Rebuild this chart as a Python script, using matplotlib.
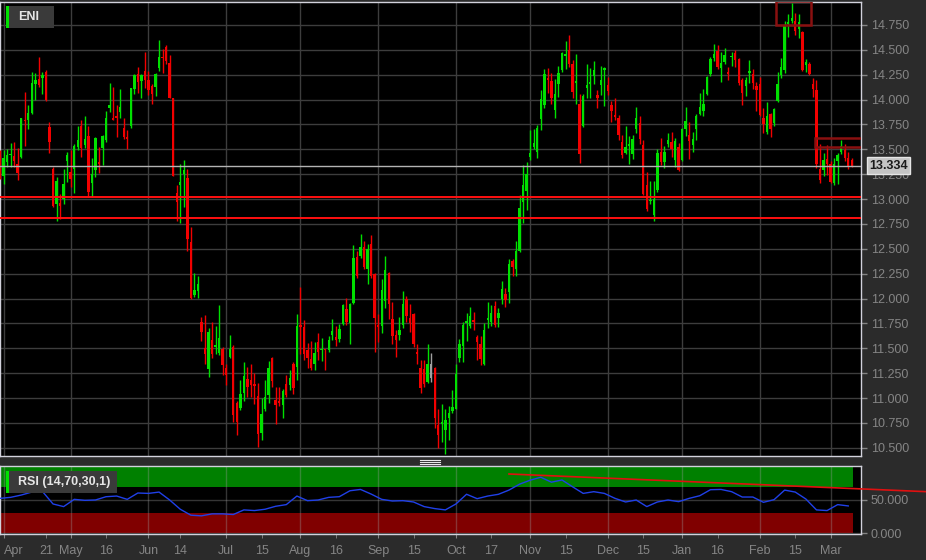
import pandas as pd
import matplotlib
matplotlib.use("Agg")
import matplotlib.pyplot as plt
from matplotlib.patches import Rectangle
from matplotlib.lines import Line2D

plt.rcParams['font.family'] = ['Liberation Sans', 'DejaVu Sans']

BG = '#2b2b2b'
GRID = '#3d3d3d'
TXT = '#858585'
BORDER = '#d2d2dc'
UP = '#00e000'
DOWN = '#f20000'
FLAT = '#a0a0a0'

# ENI daily candles, 31 Mar 2022 .. 9 Mar 2023 (Borsa Italiana sessions)
holidays = ['2022-04-15', '2022-04-18', '2022-08-15', '2022-12-26']
neutral_days = ['2022-09-22']

opens = [13.46, 13.23, 13.37, 13.44, 13.43, 13.35, 13.42, 13.80, 13.79, 13.87,
         14.16, 14.21, 14.22, 14.28, 13.72, 13.30, 12.95, 12.96, 13.00, 13.38,
         13.27, 13.30, 13.52, 13.73, 13.54, 13.63, 13.16, 13.29, 13.37, 13.51,
         13.59, 13.92, 13.82, 13.83, 13.88, 13.71, 13.62, 13.73, 14.11, 14.26,
         14.19, 14.29, 14.20, 14.14, 14.13, 14.32, 14.43, 14.53, 14.37, 14.02,
         13.06, 13.14, 13.25, 13.21, 12.57, 12.04, 12.08, 11.76, 11.50, 11.29,
         11.58, 11.51, 11.45, 11.49, 11.30, 11.41, 11.51, 10.95, 10.90, 11.05,
         11.19, 11.18, 11.14, 11.02, 10.65, 10.89, 11.03, 11.40, 10.98, 10.97,
         10.93, 11.14, 11.13, 11.34, 11.31, 11.73, 11.71, 11.48, 11.39, 11.34,
         11.56, 11.48, 11.49, 11.48, 11.63, 11.61, 11.59, 11.74, 11.90, 11.75,
         11.96, 12.42, 12.43, 12.52, 12.30, 12.55, 12.25, 11.73, 11.72, 11.98,
         12.26, 11.79, 11.63, 11.63, 11.73, 12.00, 11.81, 11.85, 11.46, 11.30,
         11.29, 11.16, 11.20, 11.30, 10.73, 10.74, 10.68, 10.80, 10.87, 10.89,
         11.40, 11.52, 11.75, 11.72, 11.78, 11.61, 11.54, 11.34, 11.78, 11.76,
         11.93, 11.81, 12.00, 12.05, 12.07, 12.38, 12.30, 12.48, 12.97, 13.08,
         13.42, 13.52, 13.47, 13.81, 13.95, 14.22, 14.19, 13.90, 14.16, 14.30,
         14.44, 14.50, 14.36, 14.17, 13.96, 13.73, 14.12, 14.16, 14.24, 14.05,
         14.15, 14.30, 14.15, 13.95, 13.85, 13.82, 13.57, 13.46, 13.53, 13.45,
         13.70, 13.76, 13.54, 13.14, 12.98, 12.84, 13.09, 13.47, 13.37, 13.55,
         13.57, 13.39, 13.52, 13.39, 13.70, 13.64, 13.54, 13.70, 13.86, 13.89,
         14.06, 14.26, 14.42, 14.49, 14.32, 14.38, 14.28, 14.43, 14.47, 14.41,
         14.20, 14.14, 14.27, 14.26, 14.14, 14.16, 13.82, 13.67, 13.86, 13.76,
         13.99, 14.25, 14.30, 14.76, 14.79, 14.79, 14.71, 14.68, 14.35, 14.36,
         14.16, 14.10, 13.30, 13.29, 13.40, 13.35, 13.16, 13.38, 13.47, 13.49,
         13.41, 13.39]
highs = [13.49, 13.49, 13.50, 13.56, 13.57, 13.51, 13.82, 14.08, 13.95, 14.28,
         14.27, 14.43, 14.28, 14.30, 13.77, 13.32, 13.22, 13.05, 13.30, 13.47,
         13.49, 13.55, 13.73, 13.80, 13.84, 13.73, 13.41, 13.62, 13.52, 13.64,
         13.89, 14.17, 14.13, 13.95, 14.11, 13.82, 13.69, 14.12, 14.26, 14.33,
         14.26, 14.48, 14.29, 14.16, 14.27, 14.60, 14.51, 14.55, 14.45, 14.02,
         13.14, 13.35, 13.39, 13.30, 12.72, 12.26, 12.23, 11.82, 11.84, 11.70,
         11.76, 11.72, 11.94, 11.51, 11.34, 11.63, 11.53, 10.97, 11.18, 11.36,
         11.31, 11.34, 11.25, 11.15, 11.00, 11.18, 11.37, 11.41, 11.11, 11.11,
         11.09, 11.23, 11.28, 11.36, 11.85, 12.12, 11.78, 11.55, 11.57, 11.56,
         11.65, 11.60, 11.49, 11.62, 11.79, 11.72, 11.74, 11.95, 12.01, 11.96,
         12.54, 12.48, 12.65, 12.58, 12.55, 12.64, 12.26, 11.85, 12.20, 12.43,
         12.27, 11.97, 11.68, 11.82, 12.08, 12.03, 11.95, 11.86, 11.54, 11.38,
         11.38, 11.54, 11.45, 11.31, 10.89, 10.94, 10.89, 10.92, 11.08, 11.34,
         11.59, 11.76, 11.86, 11.92, 11.87, 11.63, 11.62, 11.75, 11.97, 11.94,
         11.98, 11.91, 12.18, 12.11, 12.40, 12.40, 12.58, 13.04, 13.34, 13.37,
         13.69, 13.70, 13.74, 14.10, 14.31, 14.32, 14.27, 14.21, 14.34, 14.48,
         14.59, 14.65, 14.40, 14.46, 14.06, 14.06, 14.36, 14.32, 14.39, 14.10,
         14.34, 14.33, 14.23, 13.99, 14.02, 13.85, 13.64, 13.73, 13.63, 13.64,
         13.93, 13.84, 13.59, 13.27, 13.18, 13.18, 13.50, 13.61, 13.53, 13.66,
         13.67, 13.61, 13.56, 13.71, 13.93, 13.77, 13.67, 13.86, 14.07, 14.11,
         14.24, 14.43, 14.56, 14.55, 14.48, 14.52, 14.33, 14.48, 14.50, 14.42,
         14.22, 14.23, 14.40, 14.31, 14.18, 14.23, 13.92, 13.98, 13.87, 13.92,
         14.28, 14.42, 14.79, 14.86, 14.97, 14.87, 14.86, 14.69, 14.41, 14.38,
         14.22, 14.20, 13.55, 13.46, 13.54, 13.38, 13.41, 13.46, 13.59, 13.55,
         13.47, 13.41]
lows = [13.20, 13.15, 13.32, 13.32, 13.32, 13.19, 13.41, 13.53, 13.70, 13.86,
        14.00, 14.13, 14.06, 13.99, 13.46, 12.92, 12.78, 12.80, 12.95, 13.17,
        13.12, 13.06, 13.49, 13.42, 13.51, 13.02, 13.03, 13.22, 13.26, 13.34,
        13.57, 13.88, 13.79, 13.62, 13.82, 13.60, 13.50, 13.71, 14.06, 14.07,
        14.02, 14.12, 14.05, 13.96, 14.04, 14.29, 14.27, 14.36, 14.02, 13.23,
        12.78, 12.76, 12.92, 12.48, 12.00, 12.02, 12.01, 11.57, 11.34, 11.21,
        11.40, 11.44, 11.43, 11.23, 11.13, 11.40, 10.76, 10.63, 10.88, 10.97,
        11.01, 11.01, 10.94, 10.51, 10.58, 10.87, 10.95, 11.11, 10.74, 10.92,
        10.80, 11.01, 11.08, 11.04, 11.18, 11.44, 11.38, 11.30, 11.28, 11.28,
        11.38, 11.37, 11.28, 11.46, 11.58, 11.52, 11.56, 11.73, 11.73, 11.54,
        11.95, 12.21, 12.41, 12.30, 12.15, 12.21, 11.46, 11.56, 11.65, 11.91,
        11.79, 11.54, 11.41, 11.58, 11.70, 11.76, 11.66, 11.51, 11.34, 11.05,
        11.11, 11.15, 11.16, 10.70, 10.50, 10.56, 10.44, 10.58, 10.85, 10.89,
        11.36, 11.36, 11.57, 11.70, 11.68, 11.38, 11.33, 11.33, 11.70, 11.72,
        11.71, 11.71, 11.95, 11.92, 11.96, 12.23, 12.23, 12.47, 12.76, 12.89,
        13.39, 13.50, 13.41, 13.69, 13.92, 14.07, 13.96, 13.82, 14.03, 14.28,
        14.31, 14.33, 14.02, 13.96, 13.36, 13.72, 14.02, 14.02, 14.16, 13.92,
        14.05, 13.94, 14.05, 13.77, 13.79, 13.59, 13.41, 13.45, 13.35, 13.40,
        13.66, 13.55, 13.04, 12.88, 12.95, 12.78, 13.07, 13.34, 13.31, 13.52,
        13.42, 13.32, 13.28, 13.38, 13.63, 13.40, 13.47, 13.59, 13.85, 13.84,
        14.05, 14.24, 14.39, 14.31, 14.18, 14.36, 14.20, 14.34, 14.33, 14.15,
        13.95, 14.04, 14.17, 14.11, 13.89, 13.84, 13.66, 13.65, 13.62, 13.73,
        13.98, 14.22, 14.27, 14.63, 14.77, 14.65, 14.62, 14.29, 14.28, 14.25,
        14.03, 13.31, 13.16, 13.23, 13.24, 13.16, 13.14, 13.15, 13.45, 13.38,
        13.30, 13.32]
closes = [13.25, 13.41, 13.44, 13.45, 13.38, 13.26, 13.82, 13.78, 13.87, 14.17,
          14.20, 14.15, 14.25, 14.00, 13.57, 12.93, 13.18, 12.93, 13.15, 13.44,
          13.20, 13.53, 13.59, 13.51, 13.60, 13.07, 13.25, 13.61, 13.35, 13.63,
          13.82, 13.95, 13.80, 13.82, 13.93, 13.62, 13.60, 14.12, 14.25, 14.18,
          14.25, 14.20, 14.10, 14.06, 14.26, 14.43, 14.42, 14.39, 14.02, 13.23,
          12.97, 13.17, 13.29, 12.60, 12.01, 12.09, 12.15, 11.66, 11.44, 11.66,
          11.44, 11.53, 11.60, 11.33, 11.23, 11.49, 10.83, 10.76, 11.04, 11.22,
          11.11, 11.13, 11.12, 10.64, 10.84, 11.01, 11.30, 11.17, 10.93, 10.95,
          11.07, 11.03, 11.20, 11.10, 11.72, 11.71, 11.44, 11.40, 11.30, 11.45,
          11.46, 11.49, 11.48, 11.58, 11.67, 11.58, 11.69, 11.94, 11.76, 11.95,
          12.41, 12.23, 12.52, 12.32, 12.50, 12.23, 11.81, 11.71, 12.09, 12.29,
          11.95, 11.62, 11.58, 11.68, 11.95, 11.83, 11.75, 11.54, 11.44, 11.10,
          11.14, 11.34, 11.34, 10.80, 10.63, 10.76, 10.78, 10.85, 10.91, 11.24,
          11.54, 11.73, 11.77, 11.83, 11.76, 11.56, 11.39, 11.68, 11.80, 11.86,
          11.73, 11.86, 12.10, 11.99, 12.35, 12.32, 12.48, 12.91, 13.14, 13.25,
          13.46, 13.56, 13.71, 14.01, 14.26, 14.20, 14.02, 14.06, 14.27, 14.47,
          14.46, 14.36, 14.08, 14.19, 13.45, 14.04, 14.15, 14.18, 14.30, 14.02,
          14.20, 14.32, 14.09, 13.89, 13.83, 13.64, 13.44, 13.52, 13.55, 13.60,
          13.82, 13.60, 13.05, 12.90, 12.99, 13.00, 13.46, 13.37, 13.47, 13.59,
          13.50, 13.58, 13.29, 13.70, 13.78, 13.58, 13.60, 13.84, 13.93, 13.96,
          14.23, 14.41, 14.46, 14.33, 14.37, 14.45, 14.26, 14.44, 14.40, 14.17,
          14.07, 14.20, 14.29, 14.17, 14.10, 13.85, 13.75, 13.84, 13.70, 13.91,
          14.16, 14.33, 14.74, 14.78, 14.82, 14.69, 14.78, 14.30, 14.38, 14.26,
          14.11, 13.35, 13.19, 13.39, 13.35, 13.17, 13.35, 13.44, 13.53, 13.41,
          13.32, 13.334]

# RSI(14), every third session
rsi_values = [52.5, 54, 57.5, 62, 63, 44, 40, 51, 49.5, 50,
              55, 56, 51, 60.6, 60, 62, 50, 36, 27, 26,
              29, 29, 28, 35, 34, 36, 40.5, 43, 56, 49,
              50, 54, 55, 64, 66, 59, 51, 48.5, 49, 47,
              40, 37, 35, 44, 58.7, 52, 56, 58.6, 65, 74,
              80, 84.5, 77, 80.3, 70, 60, 62.6, 60, 52.5, 47,
              50, 40, 47, 50, 47.5, 52.5, 56.5, 65.6, 66, 62.6,
              54.5, 54.5, 46.5, 50.5, 65, 62, 51.5, 35, 34, 43,
              41]

# support levels and drawn zones
levels = [13.02, 12.81]
zone_start = ['2023-02-08', '2023-02-23']
zone_end = ['2023-02-21', None]
zone_low = [14.75, 13.524]
zone_high = [14.99, 13.614]
trend_dates = ['2022-10-24', '2023-03-09']
trend_values = [89.4, 67.4]

tick_dates = ['2022-04-01', '2022-04-21', '2022-05-02', '2022-05-16', '2022-06-01',
              '2022-06-14', '2022-07-01', '2022-07-15', '2022-08-01', '2022-08-16',
              '2022-09-01', '2022-09-15', '2022-10-03', '2022-10-17', '2022-11-01',
              '2022-11-15', '2022-12-01', '2022-12-15', '2023-01-02', '2023-01-16',
              '2023-02-01', '2023-02-15', '2023-03-01']
tick_labels = ['Apr', '21', 'May', '16', 'Jun', '14', 'Jul', '15', 'Aug', '16',
               'Sep', '15', 'Oct', '17', 'Nov', '15', 'Dec', '15', 'Jan', '16',
               'Feb', '15', 'Mar']

dates = pd.bdate_range('2022-03-31', periods=len(closes), freq='C', holidays=holidays)
pos = {d: i for i, d in enumerate(dates)}
xs = list(range(len(dates)))


def at(d):
    return pos[pd.Timestamp(d)]


W, H = 926, 560


def frame(l, t, r, b):
    return [l / W, 1 - b / H, (r - l) / W, (b - t) / H]


fig = plt.figure(figsize=(9.26, 5.6), dpi=100, facecolor=BG)
ax = fig.add_axes(frame(0, 2, 861, 456))
rax = fig.add_axes(frame(0, 466, 861, 534), sharex=ax)

for a in (ax, rax):
    a.set_facecolor('black')
    for s in a.spines.values():
        s.set_color(BORDER)
        s.set_linewidth(1)
    a.yaxis.tick_right()
    a.tick_params(axis='y', colors=TXT, labelsize=9, length=4, width=1, pad=3)

# candles
colors = []
for i, (o, c) in enumerate(zip(opens, closes)):
    if dates[i].strftime('%Y-%m-%d') in neutral_days:
        colors.append(FLAT)
    else:
        colors.append(UP if c >= o else DOWN)
bottoms = [min(o, c) for o, c in zip(opens, closes)]
heights = [max(abs(c - o), 0.012) for o, c in zip(opens, closes)]
ax.vlines(xs, lows, highs, colors=colors, lw=1.0, zorder=3)
ax.bar(xs, heights, bottom=bottoms, width=0.68, color=colors, linewidth=0, zorder=4)

ax.set_xlim(0, 243.6)
ax.set_ylim(10.418, 14.981)
ax.set_yticks([10.5 + 0.25 * i for i in range(18)])
ax.yaxis.set_major_formatter(matplotlib.ticker.FormatStrFormatter('%.3f'))

for lv in levels:
    ax.axhline(lv, color='#ff1010', lw=1.4, zorder=5)
ax.axhline(closes[-1], color='#b4b4b4', lw=1.0, zorder=5)

for s, e, lo, hi in zip(zone_start, zone_end, zone_low, zone_high):
    x0 = at(s) - 0.5
    x1 = at(e) + 0.5 if e else ax.get_xlim()[1] + 2
    ax.add_patch(Rectangle((x0, lo), x1 - x0, hi - lo, fill=False,
                           edgecolor='#8a1010', lw=1.8, zorder=5))

ax.annotate(f'{closes[-1]:.3f}', xy=(1, closes[-1]), xycoords=('axes fraction', 'data'),
            xytext=(6, 0), textcoords='offset points', va='center', ha='left',
            fontsize=9, fontweight='bold', color='#1a1a1a', annotation_clip=False,
            bbox=dict(boxstyle='square,pad=0.2', facecolor='#c4c4c4', edgecolor='#e6e6e6', lw=1),
            zorder=10)

# month grid + date labels
month_ticks = [at(d) for d, l in zip(tick_dates, tick_labels) if not l.isdigit()]
month_labels = [l for l in tick_labels if not l.isdigit()]
mid_ticks = [at(d) for d, l in zip(tick_dates, tick_labels) if l.isdigit()]
mid_labels = [l for l in tick_labels if l.isdigit()]

ax.grid(True, which='major', color=GRID, lw=1)
ax.tick_params(axis='x', which='both', labelbottom=False, length=0)

rax.set_xticks(month_ticks)
rax.set_xticklabels(month_labels)
rax.set_xticks(mid_ticks, minor=True)
rax.set_xticklabels(mid_labels, minor=True)
rax.tick_params(axis='x', which='both', colors=TXT, labelsize=9, length=3, pad=5)
rax.get_xticklabels()[0].set_ha('left')

# RSI panel
band_x = [ax.get_xlim()[0], xs[-1] + 0.4]
rax.fill_between(band_x, 70, 100, color='#008000', lw=0, zorder=1)
rax.fill_between(band_x, 0, 30, color='#800000', lw=0, zorder=1)
rax.set_ylim(-1.5, 101.5)
rax.set_yticks([0, 50])
rax.yaxis.set_major_formatter(matplotlib.ticker.FormatStrFormatter('%.3f'))
rax.grid(True, which='major', color='#9a9a9a', alpha=0.35, lw=1)
rax.plot(xs[::3], rsi_values, color='#2040e8', lw=1.0, zorder=4)

tx = [at(d) for d in trend_dates]
slope = (trend_values[1] - trend_values[0]) / (tx[1] - tx[0])
fig.canvas.draw()
x_edge = rax.transData.inverted().transform(fig.transFigure.transform((1, 0)))[0]
rax.add_line(Line2D([tx[0], x_edge], [trend_values[0], trend_values[0] + slope * (x_edge - tx[0])],
                    color='#e01010', lw=1.2, zorder=6, clip_on=False))

# panel splitter handle
for yy in (459.5, 461.5, 463.5):
    fig.add_artist(Line2D([420 / W, 440 / W], [1 - yy / H] * 2, color='#e8e8e8', lw=0.8))

# legend boxes
for (l, t, r, b), label in (((6, 6, 54, 28), 'ENI'), ((6, 471, 117, 493), 'RSI (14,70,30,1)')):
    fig.add_artist(Rectangle((l / W, 1 - b / H), (r - l) / W, (b - t) / H,
                             transform=fig.transFigure, facecolor='#3a3a3a', edgecolor='none', zorder=20))
    fig.add_artist(Rectangle((l / W, 1 - b / H), 3 / W, (b - t) / H,
                             transform=fig.transFigure, facecolor=UP, edgecolor='none', zorder=21))
    fig.text(18 / W, 1 - (t + b) / 2 / H, label, color='#e6e6e6', fontsize=9,
             fontweight='bold', va='center', ha='left', zorder=22)

fig.savefig('out.png', dpi=100, facecolor=BG)
